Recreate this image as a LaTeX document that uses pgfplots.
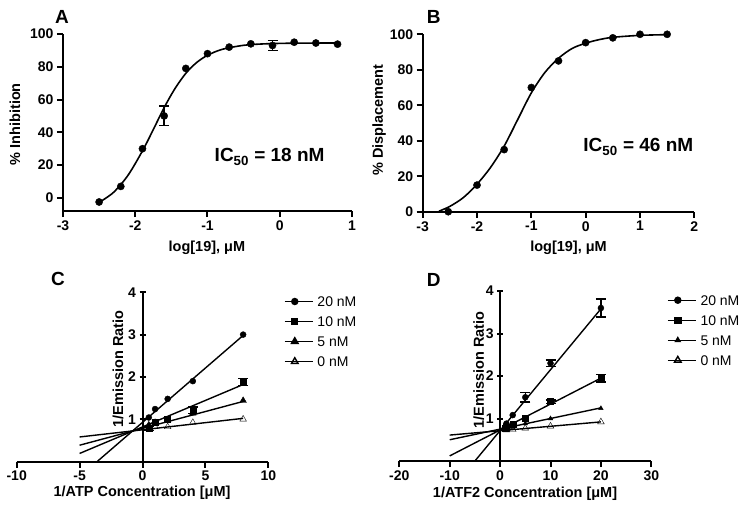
\documentclass[border=0pt]{standalone}
\usepackage{fontspec}
\setmainfont{Liberation Sans}
\usepackage{pgfplots}
\pgfplotsset{compat=1.18}

\newcommand\tickfont{\fontsize{14}{14}\selectfont\bfseries}
\newcommand\labfont{\fontsize{14.5}{14.5}\selectfont\bfseries}
\newcommand\panelfont{\fontsize{19}{19}\selectfont\bfseries}
\newcommand\icfont{\fontsize{19}{19}\selectfont\bfseries}

\pgfplotsset{
  prism/.style={
    scale only axis,
    anchor=south west,
    axis x line=bottom, axis y line=left,
    every tick/.style={line width=2pt, black},
    tick align=outside,
    major tick length=6pt,
    tick label style={font=\tickfont},
    /pgf/number format/assume math mode=true,
    clip=false,
  },
  lines/.style={axis line style={line width=2pt, -}},
  fitline/.style={black, line width=1.4pt, no marks, forget plot},
  pts/.style={black, only marks, forget plot,
    error bars/y dir=both, error bars/y explicit,
    error bars/error bar style={line width=1.4pt},
    error bars/error mark options={rotate=90, mark size=5pt, line width=1.4pt}},
  kinleg/.style={
    legend style={draw=none, fill=none, anchor=north west,
      font=\fontsize{14}{14}\selectfont, row sep=6pt,
      nodes={text height=10pt, text depth=0pt, inner ysep=2pt, inner xsep=4pt}},
    legend cell align=left,
    legend image code/.code={\draw[mark repeat=2,mark phase=2]
      plot coordinates {(0pt,0pt)(10pt,0pt)(20pt,0pt)};
      \path (0pt,0pt) -- (28pt,0pt);},
  },
}

\begin{document}
\begin{tikzpicture}
\path[use as bounding box] (0,0) rectangle (745pt,515pt);

% ---- A ----
\begin{axis}[prism, lines, at={(63pt,304pt)}, width=289pt, height=177pt,
  xmin=-3, xmax=1, ymin=-8, ymax=100,
  xtick={-3,-2,-1,0,1}, ytick={0,20,40,60,80,100},
  xlabel={log[19], μM}, ylabel={\% Inhibition},
  xlabel style={font=\labfont, at={(axis description cs:0.498,-0.209)}, anchor=center},
  ylabel style={font=\labfont, at={(axis description cs:-0.166,0.49)}, anchor=center},
]
\addplot[black, line width=1.6pt, smooth] coordinates {
  (-2.5,-2.8) (-2.3,3.4) (-2.1,13.8) (-1.9,28.7) (-1.75,41.7) (-1.6,55.1)
  (-1.45,66.7) (-1.3,76) (-1.15,82.6) (-1.0,87) (-0.8,90.6) (-0.5,93.1)
  (-0.2,94) (0.2,94.4) (0.8,94.5)};
\addplot[pts, mark=*, mark size=3.6pt] coordinates {
  (-2.5,-2.5) (-2.2,7) (-1.9,30) (-1.6,50) +- (0,6) (-1.3,79) (-1.0,88)
  (-0.7,92) (-0.4,94) (-0.1,93) +- (0,3) (0.2,95) (0.5,94.5) (0.8,93.8)};
\node[font=\icfont] at (axis cs:-0.14,25) {IC\textsubscript{50} = 18 nM};
\end{axis}
\node[font=\panelfont] at (62pt,498pt) {A};

% ---- B ----
\begin{axis}[prism, lines, at={(422.7pt,303.3pt)}, width=271.6pt, height=177.4pt,
  xmin=-3, xmax=2, ymin=0, ymax=100,
  xtick={-3,-2,-1,0,1,2}, ytick={0,20,40,60,80,100},
  xlabel={log[19], μM}, ylabel={\% Displacement},
  xlabel style={font=\labfont, at={(axis description cs:0.537,-0.205)}, anchor=center},
  ylabel style={font=\labfont, at={(axis description cs:-0.16,0.517)}, anchor=center},
]
\addplot[black, line width=1.6pt, smooth] coordinates {
  (-2.7,0.3) (-2.5,3) (-2.25,8) (-2.0,15.5) (-1.75,25) (-1.5,37) (-1.25,52)
  (-1.0,67) (-0.75,78.5) (-0.5,86.5) (-0.25,92) (0,95) (0.25,97) (0.5,98.3)
  (1.0,99.4) (1.5,99.8)};
\addplot[pts, mark=*, mark size=3.6pt] coordinates {
  (-2.53,0) (-2.0,15) (-1.5,35) (-1.0,70) (-0.5,85) (0,95.3) (0.5,98)
  (1.0,100) (1.5,100)};
\node[font=\icfont] at (axis cs:0.97,36.5) {IC\textsubscript{50} = 46 nM};
\end{axis}
\node[font=\panelfont] at (433.7pt,498.3pt) {B};

% ---- C ----
\begin{axis}[prism, kinleg, at={(16.7pt,53.5pt)}, width=251.6pt, height=169.2pt,
  axis y line=center, lines,
  every inner y axis line/.append style={-},
  xmin=-10, xmax=10, ymin=0, ymax=4,
  xtick={-10,-5,0,5,10}, ytick={1,2,3,4},
  hide obscured x ticks=false,
  xlabel={1/ATP Concentration [μM]}, ylabel={1/Emission Ratio},
  xlabel style={font=\labfont, at={(axis description cs:0.498,-0.186)}, anchor=center},
  ylabel style={font=\labfont, at={(axis description cs:0.403,0.547)}, anchor=center, rotate=90},
  legend style={at={(axis description cs:1.05,1.0)}},
]
\addlegendimage{black, line width=1.4pt, mark=*, mark size=3pt}
\addlegendentry{20 nM}
\addlegendimage{black, line width=1.4pt, mark=square*, mark size=3pt}
\addlegendentry{10 nM}
\addlegendimage{black, line width=1.4pt, mark=triangle*, mark size=3.8pt}
\addlegendentry{5 nM}
\addlegendimage{black, line width=1.4pt, mark=triangle, mark size=3.8pt, mark options={fill=white}}
\addlegendentry{0 nM}
\addplot[fitline] coordinates {(-3.6,0) (8,2.98)};
\addplot[fitline] coordinates {(-5,0.19) (8,1.82)};
\addplot[fitline] coordinates {(-5,0.385) (8,1.42)};
\addplot[fitline] coordinates {(-5,0.58) (8,1.02)};
\addplot[pts, mark=*, mark size=3pt] coordinates {
  (0.5,1.04) (1,1.24) (2,1.48) (4,1.9) (8,3.0)};
\addplot[pts, mark=square*, mark size=3pt] coordinates {
  (0.5,0.78) +- (0,0.05) (1,0.94) (2,1.0) (4,1.21) +- (0,0.08) (8,1.88) +- (0,0.08)};
\addplot[pts, mark=triangle*, mark size=3.8pt] coordinates {
  (0.5,0.86) (1,0.92) (2,0.98) (4,1.14) (8,1.44)};
\addplot[pts, mark=triangle, mark size=3.8pt, mark options={fill=white}] coordinates {
  (0.5,0.8) (1,0.82) (2,0.82) (4,0.92) (8,1.0)};
\end{axis}
\node[font=\panelfont] at (58pt,236pt) {C};

% ---- D ----
\begin{axis}[prism, kinleg, at={(399.3pt,54pt)}, width=252pt, height=170pt,
  axis y line=center, lines,
  every inner y axis line/.append style={-},
  xmin=-20, xmax=30, ymin=0, ymax=4,
  xtick={-20,-10,0,10,20,30}, ytick={1,2,3,4},
  hide obscured x ticks=false,
  xlabel={1/ATF2 Concentration [μM]}, ylabel={1/Emission Ratio},
  xlabel style={font=\labfont, at={(axis description cs:0.499,-0.19)}, anchor=center},
  ylabel style={font=\labfont, at={(axis description cs:0.315,0.535)}, anchor=center, rotate=90},
  legend style={at={(axis description cs:1.05,1.0)}},
]
\addlegendimage{black, line width=1.4pt, mark=*, mark size=3pt}
\addlegendentry{20 nM}
\addlegendimage{black, line width=1.4pt, mark=square*, mark size=3pt}
\addlegendentry{10 nM}
\addlegendimage{black, line width=1.4pt, mark=triangle*, mark size=2.6pt}
\addlegendentry{5 nM}
\addlegendimage{black, line width=1.4pt, mark=triangle, mark size=3.8pt, mark options={fill=white}}
\addlegendentry{0 nM}
\addplot[fitline] coordinates {(-5,0) (20,3.58)};
\addplot[fitline] coordinates {(-10,0.12) (20,1.95)};
\addplot[fitline] coordinates {(-10,0.5) (20,1.25)};
\addplot[fitline] coordinates {(-10,0.61) (20,0.92)};
\addplot[pts, mark=*, mark size=3pt] coordinates {
  (1.25,0.88) (2.5,1.08) (5,1.5) +- (0,0.11) (10,2.3) +- (0,0.08) (20,3.6) +- (0,0.21)};
\addplot[pts, mark=square*, mark size=3pt] coordinates {
  (1,0.78) (1.25,0.8) (2.5,0.87) (5,1.0) (10,1.4) +- (0,0.04) (20,1.95) +- (0,0.09)};
\addplot[pts, mark=triangle*, mark size=2.6pt] coordinates {
  (1.25,0.78) (2.5,0.8) (5,0.88) (10,1.0) (20,1.24)};
\addplot[pts, mark=triangle, mark size=3.8pt, mark options={fill=white}] coordinates {
  (1.25,0.73) (2.5,0.74) (5,0.77) (10,0.82) (20,0.92)};
\end{axis}
\node[font=\panelfont] at (433.7pt,235pt) {D};
\end{tikzpicture}
\end{document}
